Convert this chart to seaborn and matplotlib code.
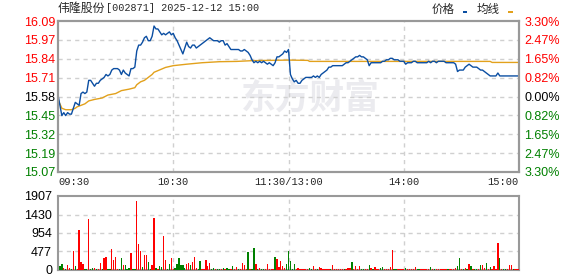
import numpy as np
import matplotlib
matplotlib.use("Agg")
import matplotlib.pyplot as plt
from matplotlib.patches import Rectangle
import seaborn as sns

# ---------------- data ----------------
title_name = "伟隆股份"
title_rest = "[002871] 2025-12-12 15:00"
legend_labels = ["价格", "均线"]
prev_close = 15.58
max_pct = 3.30
price_tick_labels = ["16.09", "15.97", "15.84", "15.71", "15.58", "15.45", "15.32", "15.19", "15.07"]
pct_tick_labels = ["3.30%", "2.47%", "1.65%", "0.82%", "0.00%", "0.82%", "1.65%", "2.47%", "3.30%"]
time_labels = ["09:30", "10:30", "11:30/13:00", "14:00", "15:00"]
time_label_minutes = [0, 60, 120, 180, 240]
vol_tick_labels = ["0", "477", "954", "1430", "1907"]

# price, one value per minute, 09:30 .. 15:00 (241 points)
price = [
    15.59, 15.52, 15.45, 15.47, 15.45, 15.47, 15.46, 15.46, 15.50, 15.54,
    15.53, 15.52, 15.60, 15.61, 15.60, 15.61, 15.69, 15.69, 15.67, 15.65,
    15.67, 15.67, 15.69, 15.70, 15.71, 15.73, 15.72, 15.73, 15.76, 15.77,
    15.77, 15.77, 15.76, 15.73, 15.76, 15.74, 15.73, 15.72, 15.77, 15.77,
    15.78, 15.89, 15.93, 15.93, 15.95, 15.98, 15.99, 15.96, 15.96, 15.99,
    16.06, 16.04, 16.04, 16.02, 16.00, 16.01, 16.00, 16.01, 16.02, 16.00,
    16.01,
    15.98, 15.96, 15.93, 15.90, 15.87, 15.91, 15.95, 15.92, 15.91, 15.93,
    15.93, 15.91, 15.92, 15.93, 15.94, 15.95, 15.96, 15.97, 15.98, 15.97,
    15.96, 15.96, 15.96, 15.95, 15.96, 15.96, 15.93, 15.94, 15.92, 15.90,
    15.90, 15.90, 15.90, 15.90, 15.89, 15.89, 15.90, 15.89, 15.88, 15.86,
    15.83, 15.81, 15.82, 15.81, 15.82, 15.81, 15.82, 15.81, 15.80, 15.81,
    15.80, 15.79, 15.81, 15.85, 15.85, 15.86, 15.87, 15.89, 15.88, 15.90,
    15.73, 15.70, 15.68, 15.69, 15.67, 15.67, 15.69, 15.70, 15.71, 15.71,
    15.71, 15.71, 15.72, 15.71, 15.72, 15.71, 15.73, 15.74, 15.75, 15.76,
    15.78, 15.78, 15.79, 15.79, 15.79, 15.79, 15.79, 15.79, 15.80, 15.81,
    15.81, 15.82, 15.83, 15.84, 15.85, 15.85, 15.86, 15.85, 15.85, 15.84,
    15.83, 15.79, 15.81, 15.81, 15.81, 15.81, 15.81, 15.81, 15.82, 15.82,
    15.83, 15.83, 15.84, 15.84, 15.83, 15.83, 15.83, 15.82, 15.82, 15.82,
    15.80, 15.81, 15.81, 15.81, 15.82, 15.82, 15.81, 15.81, 15.81, 15.81,
    15.81, 15.81, 15.82, 15.81, 15.82, 15.82, 15.81, 15.82, 15.82, 15.82,
    15.82, 15.81, 15.81, 15.81, 15.81, 15.81, 15.80, 15.75, 15.76, 15.76,
    15.76, 15.78, 15.79, 15.80, 15.79, 15.78, 15.78, 15.78, 15.77, 15.76,
    15.76, 15.75, 15.74, 15.73, 15.72, 15.72, 15.72, 15.72, 15.74, 15.72,
    15.72, 15.72, 15.72, 15.72, 15.72, 15.72, 15.72, 15.72, 15.72, 15.72,
]

# average price line, read at these minutes
avg_minutes = [0, 2, 4, 7, 9, 10, 12, 14, 16, 19, 23, 26, 30, 33, 37, 40, 41, 43, 45,
               47, 49, 50, 52, 54, 56, 60, 67, 75, 84, 93, 101, 110, 120, 130, 131,
               225, 226, 240]
avg_values = [15.56, 15.50, 15.49, 15.49, 15.50, 15.51, 15.52, 15.53, 15.55, 15.56,
              15.57, 15.59, 15.60, 15.62, 15.63, 15.64, 15.66, 15.68, 15.69, 15.71,
              15.73, 15.745, 15.756, 15.767, 15.778, 15.79, 15.80, 15.81, 15.817,
              15.819, 15.824, 15.826, 15.828, 15.826, 15.819, 15.819, 15.812, 15.812]

# volume per minute 09:31 .. 15:00 (240 bars), and direction r=up / g=down
volume = [
    97, 159, 44, 15, 124, 53, 15, 494, 97, 20,
    1033, 203, 159, 15, 15, 1316, 15, 44, 44, 15,
    15, 177, 15, 309, 336, 15, 15, 547, 256, 336,
    20, 20, 309, 124, 124, 15, 44, 442, 15, 20,
    1775, 680, 494, 71, 389, 389, 203, 15, 124, 1342,
    44, 20, 97, 71, 865, 256, 15, 150, 309, 20,
    44, 150, 309, 124, 124, 44, 150, 177, 124, 203,
    336, 44, 15, 230, 15, 15, 256, 97, 177, 15,
    44, 15, 15, 20, 15, 44, 20, 44, 15, 15,
    97, 15, 71, 15, 15, 177, 124, 15, 468, 15,
    15, 574, 150, 15, 44, 15, 15, 15, 150, 15,
    15, 15, 336, 283, 71, 230, 97, 44, 150, 494,
    230, 20, 150, 20, 44, 15, 15, 15, 15, 15,
    44, 15, 97, 20, 15, 71, 44, 15, 15, 15,
    15, 15, 124, 15, 15, 20, 15, 15, 15, 15,
    44, 44, 203, 15, 97, 15, 97, 15, 20, 15,
    15, 124, 44, 15, 71, 15, 15, 44, 71, 20,
    15, 15, 71, 521, 20, 15, 15, 15, 15, 15,
    44, 15, 15, 15, 15, 71, 15, 15, 15, 15,
    15, 15, 15, 71, 15, 15, 15, 15, 15, 15,
    15, 15, 15, 20, 15, 20, 44, 97, 309, 20,
    15, 44, 15, 150, 97, 15, 15, 15, 15, 124,
    124, 44, 177, 15, 71, 15, 97, 15, 706, 309,
    15, 15, 15, 15, 124, 124, 15, 15, 20, 20,
]
vol_dir = (
    "ggrgrrgrgr" "rrrggrggrg" "rrgrrggrrr" "rggrgggrgg" "rrrgrrggrr" "grggrrggrr"
    "ggggggrrgr" "rrggrrrrrg" "grggrgrggr" "grrgrrrrgr" "ggrgrggrrr" "rrgrrrrrgg"
    "gggrrrrrrr" "ggrrgrrrrr" "rgrrrrrrgr" "rrgrrrrggr" "rgrgrrrggr" "rrrrggrrrr"
    "grrrrrggrr" "rrrgrgrrrr" "rrgrrrrggr" "grgrgrggrg" "rrgrgrrrrg" "rggrrrgrrr"
)

# ---------------- style ----------------
sns.set_style("white")
plt.rcParams["font.family"] = ["Liberation Sans", "Noto Sans CJK SC", "DejaVu Sans"]

PRICE_C = "#0b4ea2"
AVG_C = "#e2a11c"
RED = "#ff0000"
GREEN = "#008000"
GRID_C = "#d0d0d0"
SPINE_C = "#999999"

W, H = 578, 276
fig = plt.figure(figsize=(W / 100, H / 100), dpi=100)
fig.patch.set_facecolor("white")


def fx(px):
    return px / W


def fy(py):
    return 1 - py / H


ax = fig.add_axes([fx(58), fy(172), fx(519) - fx(58), fy(21) - fy(172)])
axv = fig.add_axes([fx(58), fy(270), fx(519) - fx(58), fy(196) - fy(270)])

lo = prev_close * (1 - max_pct / 100)
hi = prev_close * (1 + max_pct / 100)
minutes = np.arange(len(price))

ax.set_xlim(0, 240)
ax.set_ylim(lo, hi)
yt = np.linspace(hi, lo, len(price_tick_labels))

# grid
for y in yt[1:-1]:
    ax.axhline(y, color=GRID_C, lw=1, ls=(0, (3, 3)), zorder=1)
for m in time_label_minutes[1:-1]:
    ax.axvline(m, color=GRID_C, lw=1, ls=(0, (3, 3)), zorder=1)

# watermark
ax.text((310 - 58) / 461, (172 - 98) / 151, "东方财富", transform=ax.transAxes,
        fontsize=25, fontweight="bold", color="#ebebef", ha="center", va="center",
        family=["Noto Sans CJK SC"], zorder=0)

sns.lineplot(x=avg_minutes, y=avg_values, ax=ax, color=AVG_C, lw=1.0, zorder=3,
             legend=False)
sns.lineplot(x=minutes, y=price, ax=ax, color=PRICE_C, lw=1.0, zorder=4,
             legend=False)

ax.set_yticks(yt)
ax.set_yticklabels(price_tick_labels)
n_half = len(price_tick_labels) // 2
lab_colors = [RED] * n_half + ["#000000"] + [GREEN] * n_half
for lbl, c in zip(ax.get_yticklabels(), lab_colors):
    lbl.set_color(c)
ax.tick_params(axis="y", length=0, pad=2.2, labelsize=9)

ax.set_xticks(time_label_minutes)
ax.set_xticklabels(time_labels)
ax.tick_params(axis="x", length=0, pad=3.5)
xl = ax.get_xticklabels()
for lbl in xl:
    lbl.set_family(["Liberation Mono"])
    lbl.set_fontsize(7.5)
xl[0].set_ha("left")
xl[-1].set_ha("right")
ax.set_xlabel("")
ax.set_ylabel("")

axr = ax.twinx()
axr.set_ylim(lo, hi)
axr.set_yticks(yt)
axr.set_yticklabels(pct_tick_labels)
for lbl, c in zip(axr.get_yticklabels(), lab_colors):
    lbl.set_color(c)
axr.tick_params(axis="y", length=0, pad=4, labelsize=9)

for a in (ax, axr, axv):
    for s in a.spines.values():
        s.set_color(SPINE_C)
        s.set_linewidth(1.5)

# volume
vol_minutes = np.arange(1, len(volume) + 1)
bar_colors = [RED if d == "r" else GREEN for d in vol_dir]
vmax = float(vol_tick_labels[-1])
axv.set_xlim(0, 240)
axv.set_ylim(0, vmax)
vt = [float(v) for v in vol_tick_labels]
for y in vt[1:-1]:
    axv.axhline(y, color=GRID_C, lw=1, ls=(0, (3, 3)), zorder=1)
for m in time_label_minutes[1:-1]:
    axv.axvline(m, color=GRID_C, lw=1, ls=(0, (3, 3)), zorder=1)
axv.bar(vol_minutes, volume, width=0.7, color=bar_colors, linewidth=0, zorder=3,
        antialiased=False)
axv.set_yticks(vt)
axv.set_yticklabels(vol_tick_labels)
axv.set_xticks([])
axv.tick_params(axis="y", length=0, pad=4.3, labelsize=9, labelcolor="#000000")

# title
fig.text(fx(58), fy(8), title_name, fontsize=8.6, family=["Noto Sans CJK SC"],
         ha="left", va="center")
fig.text(fx(106), fy(8), title_rest, fontsize=7.3, family=["Liberation Mono"],
         ha="left", va="center")

# legend
fig.text(fx(432), fy(9), legend_labels[0], fontsize=8.3, family=["Noto Sans CJK SC"],
         ha="left", va="center")
fig.text(fx(477), fy(9), legend_labels[1], fontsize=8.3, family=["Noto Sans CJK SC"],
         ha="left", va="center")
fig.patches.append(Rectangle((fx(463), fy(12.7)), fx(4), 2 / H, transform=fig.transFigure,
                             color=PRICE_C, linewidth=0))
fig.patches.append(Rectangle((fx(508), fy(12.7)), fx(4.5), 2 / H, transform=fig.transFigure,
                             color=AVG_C, linewidth=0))

fig.savefig("out.png", dpi=100)
